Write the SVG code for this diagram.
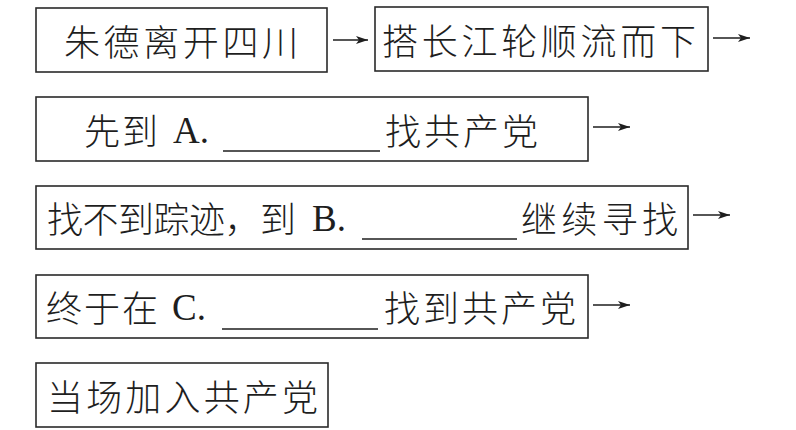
<svg xmlns="http://www.w3.org/2000/svg" width="796" height="430" viewBox="0 0 796 430">
<style>
.box{fill:none;stroke:#2a2a2a;stroke-width:1.6}
.cn{font-family:"Noto Sans CJK SC","Noto Sans CJK TC",sans-serif;font-size:36px;font-weight:300;fill:#1e1e1e;dominant-baseline:central}
.lt{font-family:"Liberation Serif",serif;font-size:37px;fill:#1e1e1e}
.ul{stroke:#1e1e1e;stroke-width:1.4}
.arr{stroke:#1e1e1e;stroke-width:1.6;fill:none;marker-end:url(#ah)}
</style>
<defs>
<marker id="ah" viewBox="0 0 12 8" refX="12" refY="4" markerWidth="12" markerHeight="8" markerUnits="userSpaceOnUse" orient="auto">
<path d="M0,0 L12,4 L0,8 L3,4 Z" fill="#1e1e1e"/>
</marker>
</defs>
<rect width="796" height="430" fill="#fff"/>
<g id="n1">
<rect class="box" x="36" y="8" width="291" height="64"/>
<text class="cn" x="64" y="40" textLength="234" lengthAdjust="spacing">朱德离开四川</text>
</g>
<g id="n2">
<rect class="box" x="375" y="7" width="333" height="64"/>
<text class="cn" x="382" y="39" textLength="314" lengthAdjust="spacing">搭长江轮顺流而下</text>
</g>
<g id="n3">
<rect class="box" x="36" y="97" width="552" height="64"/>
<text class="cn" x="84" y="129" textLength="74" lengthAdjust="spacing">先到</text>
<text class="lt" x="173" y="143">A.</text>
<line class="ul" x1="223" y1="151" x2="380" y2="151"/>
<text class="cn" x="385" y="129" textLength="153" lengthAdjust="spacing">找共产党</text>
</g>
<g id="n4">
<rect class="box" x="36" y="186" width="652" height="63"/>
<text class="cn" x="47" y="217" textLength="249" lengthAdjust="spacing">找不到踪迹，到</text>
<text class="lt" x="312" y="231">B.</text>
<line class="ul" x1="362" y1="239" x2="517" y2="239"/>
<text class="cn" x="521" y="217" textLength="157" lengthAdjust="spacing">继续寻找</text>
</g>
<g id="n5">
<rect class="box" x="36" y="275" width="552" height="63"/>
<text class="cn" x="46" y="306" textLength="112" lengthAdjust="spacing">终于在</text>
<text class="lt" x="172" y="320">C.</text>
<line class="ul" x1="222" y1="329" x2="378" y2="329"/>
<text class="cn" x="384" y="306" textLength="192" lengthAdjust="spacing">找到共产党</text>
</g>
<g id="n6">
<rect class="box" x="36" y="363" width="292" height="64"/>
<text class="cn" x="47" y="395" textLength="271" lengthAdjust="spacing">当场加入共产党</text>
</g>
<g id="connectors">
<line class="arr" x1="333" y1="40" x2="368" y2="40"/>
<line class="arr" x1="713" y1="38" x2="750" y2="38"/>
<line class="arr" x1="593" y1="127" x2="630" y2="127"/>
<line class="arr" x1="693" y1="215" x2="730" y2="215"/>
<line class="arr" x1="593" y1="305" x2="630" y2="305"/>
</g>
</svg>
